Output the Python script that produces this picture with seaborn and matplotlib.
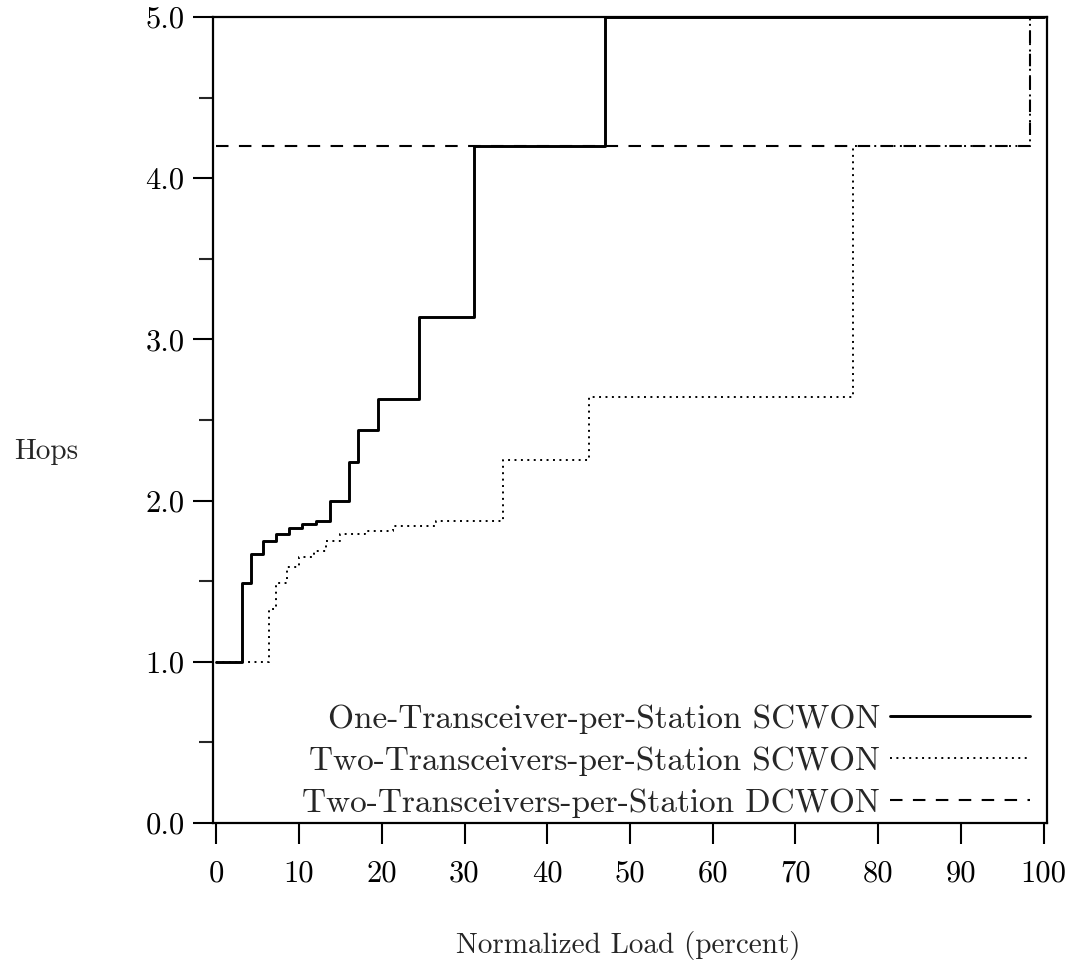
import matplotlib
matplotlib.use("Agg")
import matplotlib.pyplot as plt
import seaborn as sns
import pandas as pd
from matplotlib.ticker import MultipleLocator

# ---- data ----
one_scwon_x = [0, 3.1, 4.2, 5.6, 7.2, 8.8, 10.4, 12.05, 13.7, 16.0, 17.1, 19.6, 24.5, 31.2, 47.0, 100]
one_scwon_y = [1.0, 1.49, 1.67, 1.75, 1.79, 1.83, 1.855, 1.875, 2.0, 2.24, 2.44, 2.63, 3.14, 4.2, 5.0, 5.0]

two_scwon_x = [0, 6.4, 7.2, 8.6, 10.0, 11.8, 13.3, 14.9, 18.0, 21.3, 26.6, 34.6, 45.0, 76.9, 98.3, 100]
two_scwon_y = [1.0, 1.33, 1.49, 1.59, 1.65, 1.69, 1.75, 1.79, 1.81, 1.845, 1.875, 2.25, 2.64, 4.2, 5.0, 5.0]

two_dcwon_x = [0, 98.3, 100]
two_dcwon_y = [4.2, 5.0, 5.0]

series_labels = ["One-Transceiver-per-Station SCWON",
                 "Two-Transceivers-per-Station SCWON",
                 "Two-Transceivers-per-Station DCWON"]

x_ticks = [0, 10, 20, 30, 40, 50, 60, 70, 80, 90, 100]
y_ticks = [0.0, 1.0, 2.0, 3.0, 4.0, 5.0]
y_tick_labels = ["0.0", "1.0", "2.0", "3.0", "4.0", "5.0"]

x_label = "Normalized Load (percent)"
y_label = "Hops"

# ---- style ----
sns.set_style("ticks")
plt.rcParams["font.family"] = ["cmr10", "DejaVu Serif"]
plt.rcParams["axes.formatter.use_mathtext"] = True
plt.rcParams["mathtext.fontset"] = "cm"

TICK_FS = 22
LABEL_FS = 21
LEG_FS = 24

fig = plt.figure(figsize=(10.77, 9.69), dpi=100)
ax = fig.add_axes([213 / 1077, 1 - 823 / 969, (1047 - 213) / 1077, (823 - 17) / 969])

df1 = pd.DataFrame({"x": one_scwon_x, "y": one_scwon_y})
df2 = pd.DataFrame({"x": two_scwon_x, "y": two_scwon_y})
df3 = pd.DataFrame({"x": two_dcwon_x, "y": two_dcwon_y})

sns.lineplot(data=df3, x="x", y="y", ax=ax, color="black", lw=1.5,
             drawstyle="steps-post", estimator=None, sort=False,
             label=series_labels[2])
ax.lines[-1].set_dashes([6, 5])
sns.lineplot(data=df2, x="x", y="y", ax=ax, color="black", lw=1.4,
             drawstyle="steps-post", estimator=None, sort=False,
             label=series_labels[1])
ax.lines[-1].set_dashes([1, 2.3])
sns.lineplot(data=df1, x="x", y="y", ax=ax, color="black", lw=2.1,
             drawstyle="steps-post", estimator=None, sort=False,
             label=series_labels[0])

ax.set_xlim(-0.4, 100.4)
ax.set_ylim(0, 5.0)

ax.set_xticks(x_ticks)
ax.set_xticklabels([str(t) for t in x_ticks])
ax.set_yticks(y_ticks)
ax.set_yticklabels(y_tick_labels)
ax.yaxis.set_minor_locator(MultipleLocator(0.5))

ax.tick_params(axis="both", which="major", direction="out", color="black",
               width=1.5, labelsize=TICK_FS, labelcolor="black")
ax.tick_params(axis="x", which="major", length=15, pad=12)
ax.tick_params(axis="y", which="major", length=14.5, pad=6)
ax.tick_params(axis="y", which="minor", direction="out", length=10, width=1.5)

for s in ax.spines.values():
    s.set_visible(True)
    s.set_linewidth(1.6)
    s.set_color("black")

ax.set_xlabel(x_label, fontsize=LABEL_FS, va="center")
ax.set_ylabel(y_label, fontsize=LABEL_FS, rotation=0, ha="center", va="center")
ax.xaxis.set_label_coords((628 - 213) / 834, (823 - 945) / 806)
ax.yaxis.set_label_coords((46 - 213) / 834, (823 - 452) / 806)

handles, labels = ax.get_legend_handles_labels()
order = [labels.index(l) for l in series_labels]
leg = ax.legend([handles[i] for i in order], [labels[i] for i in order],
                loc="lower right", bbox_to_anchor=(0.98, 0.006),
                frameon=False, markerfirst=False, fontsize=LEG_FS,
                handlelength=4.2, handletextpad=0.3, labelspacing=0.38,
                borderpad=0, borderaxespad=0)

ax.set_facecolor("white")
fig.patch.set_facecolor("white")
fig.savefig("out.png", dpi=100, facecolor="white")
